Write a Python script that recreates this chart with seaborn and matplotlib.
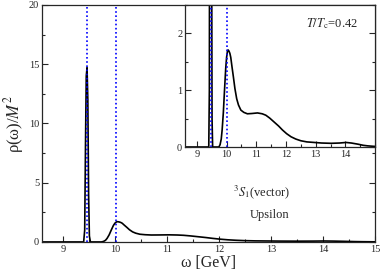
import matplotlib
matplotlib.use("Agg")
import matplotlib.pyplot as plt
import pandas as pd
import seaborn as sns
from matplotlib.ticker import MultipleLocator

# spectral function
omega = [8.6, 9.0, 9.3, 9.40, 9.42, 9.435, 9.45, 9.465, 9.48, 9.495, 9.51, 9.53,
         9.6, 9.74, 9.78, 9.82, 9.85, 9.89, 9.93, 9.97, 10.0, 10.03, 10.05,
         10.08, 10.11, 10.14, 10.18, 10.23, 10.28, 10.34, 10.40, 10.48, 10.58,
         10.70, 10.85, 11.04, 11.2, 11.32, 11.45, 11.60, 11.75, 11.88, 12.02,
         12.17, 12.33, 12.50, 12.7, 12.95, 13.2, 13.52, 13.8, 14.02, 14.2,
         14.42, 14.6, 14.75, 15.0]
rho = [0.0, 0.0, 0.0, 0.0, 1.0, 8.0, 14.0, 14.7, 12.0, 4.0, 0.5, 0.0,
       0.0, 0.0, 0.04, 0.14, 0.30, 0.6, 1.0, 1.38, 1.58, 1.69, 1.71,
       1.69, 1.65, 1.58, 1.42, 1.23, 1.03, 0.85, 0.74, 0.65, 0.61,
       0.585, 0.59, 0.60, 0.585, 0.56, 0.51, 0.44, 0.37, 0.30, 0.235,
       0.18, 0.14, 0.11, 0.09, 0.08, 0.07, 0.065, 0.07, 0.08, 0.07,
       0.05, 0.03, 0.02, 0.01]
upsilon_masses = [9.46, 10.02]

df = pd.DataFrame({"omega": omega, "rho": rho})

sns.set_style("ticks")
plt.rcParams["font.family"] = ["Liberation Serif", "DejaVu Serif"]
plt.rcParams["mathtext.fontset"] = "stix"
plt.rcParams["xtick.direction"] = "in"
plt.rcParams["ytick.direction"] = "in"

fig = plt.figure(figsize=(3.82, 2.74), dpi=100)
ax = fig.add_axes([0.110, 0.117, 0.872, 0.865])
ins = fig.add_axes([0.4843, 0.4635, 0.4977, 0.518])

for a, ylim, ymaj, ymin in [(ax, (0, 20), 5, 2.5), (ins, (0, 2.5), 1, 0.5)]:
    sns.lineplot(data=df, x="omega", y="rho", color="black", lw=1.2, ax=a)
    for m in upsilon_masses:
        a.axvline(m, color="blue", ls=(0, (1, 1.5)), lw=1.2)
    a.set_xlim(8.6, 15)
    a.set_ylim(*ylim)
    a.xaxis.set_major_locator(MultipleLocator(1))
    a.xaxis.set_minor_locator(MultipleLocator(0.5))
    a.yaxis.set_major_locator(MultipleLocator(ymaj))
    a.yaxis.set_minor_locator(MultipleLocator(ymin))
    a.tick_params(which="both", right=True, labelsize=7.5, pad=2, width=0.8)
    a.tick_params(which="major", length=4)
    a.tick_params(which="minor", length=2)
    for s in a.spines.values():
        s.set_linewidth(0.9)
    a.set_xlabel("")
    a.set_ylabel("")

ax.set_xticks([9, 10, 11, 12, 13, 14, 15])
ax.set_xlabel("ω [GeV]", fontsize=11.5, labelpad=1)
ax.set_ylabel(r"ρ(ω)/$M^2$", fontsize=12, labelpad=2)
ins.set_yticks([0, 1, 2])
ins.set_xticks([9, 10, 11, 12, 13, 14])

ins.text(0.91, 0.866, r"$T/T_{\rm c}$=0.42", transform=ins.transAxes, ha="right",
         va="center", fontsize=9)
ax.text(12.82, 4.2, r"$^{3}S_{1}$(vector)", ha="center", va="center", fontsize=9)
ax.text(12.98, 2.3, "Upsilon", ha="center", va="center", fontsize=9)

fig.savefig("out.png", dpi=100)
